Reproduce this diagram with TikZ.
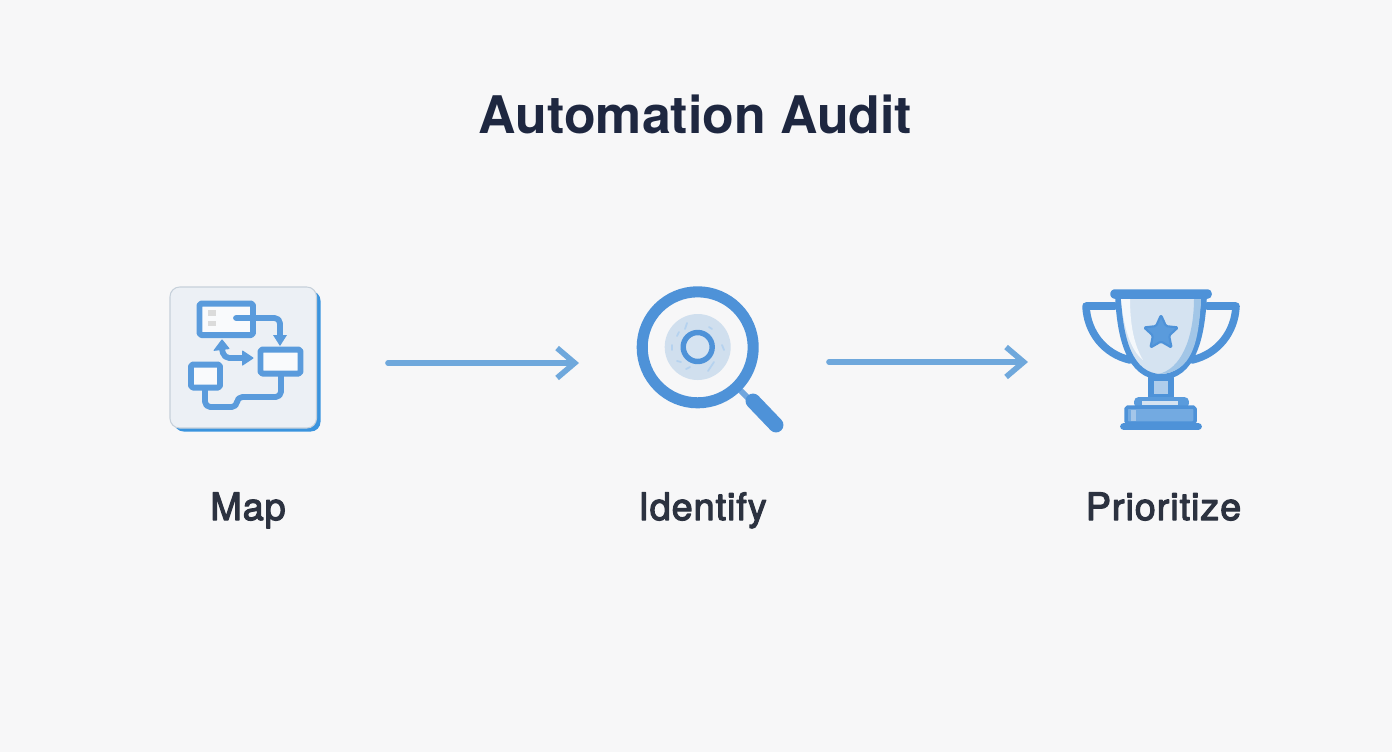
\documentclass[tikz,border=0pt]{standalone}
\usepackage{fontspec}
\setmainfont{Noto Sans}
\newfontfamily\headfont{TeX Gyre Heros}
\newfontfamily\stepfont[FakeBold=3,LetterSpace=2.5]{TeX Gyre Heros}
\usepackage{tikz}
\usetikzlibrary{arrows.meta}
\definecolor{bgcol}{HTML}{F7F7F8}
\definecolor{iconblue}{HTML}{5A9BDC}
\definecolor{ringblue}{HTML}{4E92D8}
\definecolor{arrowblue}{HTML}{6FA8DC}
\definecolor{paleblue}{HTML}{D5E3F1}
\definecolor{cardcol}{HTML}{ECF0F5}
\definecolor{cardedge}{HTML}{3A94DE}
\definecolor{titlecol}{HTML}{1E2740}
\definecolor{labelcol}{HTML}{2C3240}
\tikzset{
  stepline/.style={arrowblue,line width=3.2pt,line cap=round,-{Straight Barb[length=10pt,width=17pt,line width=3.2pt]}},
  mapline/.style={iconblue,line width=3.3pt,rounded corners=3pt},
  mapbox/.style={iconblue,line width=3.4pt,rounded corners=1pt},
  steplabel/.style={labelcol,anchor=base,font=\fontsize{21.5}{24}\stepfont},
  trophy/.style={draw=ringblue,line width=3.3pt,line join=round}
}
\begin{document}
\begin{tikzpicture}[line cap=round,line join=round,>=Stealth,x=0.02cm,y=-0.02cm]
        \useasboundingbox (0,0) rectangle (1392,752);
        \fill [bgcol] (0,0) rectangle (1392,752);
        \draw (695.5,133) node[titlecol,anchor=base,font=\fontsize{29.5}{36}\headfont\bfseries] (title) {Automation Audit};
        \draw (248,520) node[steplabel] (maplabel) {Map};
        \draw (702.5,520) node[steplabel] (identifylabel) {Identify};
        \draw (1163.5,520) node[steplabel] (prioritizelabel) {Prioritize};
        \coordinate (arrowa) at (388,363);
        \coordinate (arrowb) at (579,363);
        \coordinate (arrowc) at (829,362);
        \coordinate (arrowd) at (1028,362);
        \draw [stepline] (arrowa) -- (arrowb);
        \draw [stepline] (arrowc) -- (arrowd);
        \fill [rounded corners=5.5pt,cardedge] (174,291) rectangle (320.5,431.5);
        \draw [rounded corners=5.5pt,fill=cardcol,draw={rgb,255:red,198;green,208;blue,218},line width=0.6pt] (170,287) rectangle (316.5,428);
        \draw [mapbox,fill=white!70!cardcol] (199.5,303.5) rectangle (253,335);
        \fill [black!14] (208,310) rectangle (216,316);
        \fill [black!14] (208,321) rectangle (216,326);
        \draw [mapbox,fill=white!70!cardcol] (260.5,349.5) rectangle (300.5,373.5);
        \draw [mapbox,fill=white!70!cardcol] (191,364.5) rectangle (220,387.5);
        \draw [mapline] (236,318) -- (280,318) -- (280,335);
        \fill [iconblue] (273,335) -- (287,335) -- (280,346) -- cycle;
        \draw [mapline] (205,390) -- (205,407) -- (237,407) -- (237,397) -- (281,397) -- (281,376);
        \draw [mapline] (222,349) -- (224,358) -- (244,358);
        \fill [iconblue,rounded corners=0.5pt] (213,351) -- (222,339) -- (230,349) -- cycle;
        \fill [iconblue,rounded corners=0.5pt] (242,350) -- (254,358) -- (242,366) -- cycle;
        \draw [ringblue!80!bgcol,line width=3.4pt,line cap=butt] (738,388) -- (750,400);
        \draw [ringblue,line width=8.5pt,line cap=round] (753,401) -- (776,425);
        \draw [ringblue,fill=bgcol,line width=6.3pt] (697.7,347.3) circle (55.5);
        \fill [color={rgb,255:red,208;green,223;blue,238}] (697.7,347) circle (33);
        \draw [ringblue,fill=paleblue,line width=3.1pt] (697.7,347) circle (14.5);
        \foreach \mx/\my/\nx/\ny in {685/329/687/323,677/336/679/332,672/345/672/350,677/361/681/362,686/369/690/367,708/371/714/362,722/345/724/350,709/327/712/329}
          \draw [white!55!iconblue,line width=1pt] (\mx,\my) -- (\nx,\ny);
        \draw [trophy,line width=4.3pt] (1115,306) -- (1086,306) .. controls (1087,332) and (1104,354) .. (1130,360);
        \draw [trophy,line width=4.3pt] (1207,306) -- (1236,306) .. controls (1235,332) and (1218,354) .. (1192,360);
        \draw [trophy,fill=paleblue] (1118,296) .. controls (1120,340) and (1130,376) .. (1161,377) .. controls (1192,376) and (1202,340) .. (1204,296) -- cycle;
        \fill [white!75!paleblue] (1121,298) -- (1130,298) .. controls (1130,325) and (1134,345) .. (1143,360) .. controls (1130,350) and (1123,325) .. (1121,298) -- cycle;
        \fill [arrowblue!50!paleblue] (1201,298) -- (1194,298) .. controls (1194,340) and (1180,370) .. (1158,374) .. controls (1193,374) and (1199,340) .. (1201,298) -- cycle;
        \draw [ringblue,fill=ringblue,line width=2pt,rounded corners=1.5pt] (1112,291) rectangle (1210,297);
        \draw [trophy,fill=paleblue!70!iconblue] (1151,378) rectangle (1171,397);
        \draw [iconblue,fill=iconblue,line width=1pt,rounded corners=2pt] (1135,398) rectangle (1188,407);
        \fill [paleblue] (1142,401) rectangle (1178,405);
        \draw [ringblue,fill=iconblue!85!white,line width=2pt,rounded corners=1pt] (1126,407) rectangle (1195,423);
        \fill [paleblue!60!iconblue] (1131,410) rectangle (1136,421);
        \draw [ringblue,fill=ringblue,line width=1pt,rounded corners=1.5pt] (1121,424) rectangle (1201,429);
        \draw [ringblue,fill=iconblue,line width=1.2pt,rounded corners=0.8pt] (1161,315) -- (1166,326.1) -- (1178,327.4) -- (1169.1,335.6) -- (1171.6,347.6) -- (1161,341.5) -- (1150.4,347.6) -- (1152.9,335.6) -- (1144,327.4) -- (1156,326.1) -- cycle;
    \end{tikzpicture}
\end{document}
